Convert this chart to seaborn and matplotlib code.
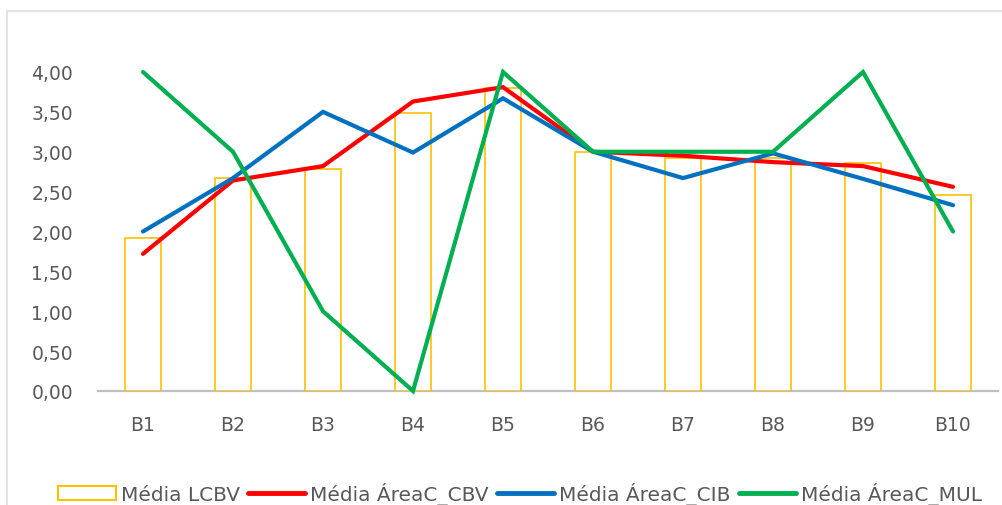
import matplotlib
matplotlib.use("Agg")
import matplotlib.pyplot as plt
from matplotlib.patches import Patch, Rectangle
from matplotlib.lines import Line2D
from matplotlib.ticker import FuncFormatter
import seaborn as sns
import pandas as pd

categories = ["B1", "B2", "B3", "B4", "B5", "B6", "B7", "B8", "B9", "B10"]
media_lcbv = [1.92, 2.67, 2.78, 3.49, 3.80, 3.00, 2.92, 2.92, 2.86, 2.46]
media_cbv = [1.72, 2.64, 2.82, 3.63, 3.81, 3.00, 2.95, 2.87, 2.82, 2.56]
media_cib = [2.00, 2.67, 3.50, 2.99, 3.67, 3.00, 2.67, 2.98, 2.66, 2.33]
media_mul = [4.00, 3.00, 1.00, 0.00, 4.00, 3.00, 3.00, 3.00, 4.00, 2.00]

bar_label = "Média LCBV"
line_labels = ["Média ÁreaC_CBV", "Média ÁreaC_CIB", "Média ÁreaC_MUL"]
line_colors = ["#FF0000", "#0070C0", "#00B050"]
bar_color = "#FFC000"
text_color = "#595959"

sns.set_theme(style="white")
plt.rcParams["font.family"] = ["DejaVu Sans"]

fig = plt.figure(figsize=(10.03, 5.06), dpi=100)
ax = fig.add_axes([98 / 1003, 1 - 392 / 506, 900 / 1003, (392 - 73) / 506])

# figure border
fig.patches.append(Rectangle((7 / 1003, -0.1), 1.2, (1 - 12 / 506) + 0.1,
                             transform=fig.transFigure, fill=False,
                             edgecolor="#E3E3E3", linewidth=1.5))

bar_df = pd.DataFrame({"cat": categories, "val": media_lcbv})
sns.barplot(data=bar_df, x="cat", y="val", order=categories, ax=ax,
            facecolor="white", edgecolor=bar_color, linewidth=1.2,
            width=0.41, errorbar=None)

long = pd.DataFrame({
    "cat": categories * 3,
    "val": media_cbv + media_cib + media_mul,
    "serie": [line_labels[0]] * 10 + [line_labels[1]] * 10 + [line_labels[2]] * 10,
})
sns.pointplot(data=long, x="cat", y="val", hue="serie", order=categories,
              hue_order=line_labels, palette=line_colors, markers="",
              linewidth=3.0, ax=ax, errorbar=None, legend=False)
for ln in ax.lines:
    ln.set_clip_on(False)
    ln.set_solid_capstyle("round")
    ln.set_solid_joinstyle("miter")

ax.set_xlim(-0.5, 9.5)
ax.set_ylim(0, 4)
ax.set_yticks([0, 0.5, 1, 1.5, 2, 2.5, 3, 3.5, 4])
ax.yaxis.set_major_formatter(FuncFormatter(lambda v, p: f"{v:.2f}".replace(".", ",")))
ax.set_xlabel("")
ax.set_ylabel("")
for s in ["top", "right", "left"]:
    ax.spines[s].set_visible(False)
ax.spines["bottom"].set_color("#BFBFBF")
ax.spines["bottom"].set_linewidth(1.6)
ax.spines["bottom"].set_zorder(0)
ax.tick_params(axis="both", length=0, labelsize=13.5, colors=text_color)
ax.tick_params(axis="y", pad=18)
ax.tick_params(axis="x", pad=17)
ax.grid(False)

handles = [Patch(facecolor="white", edgecolor=bar_color, linewidth=1.5, label=bar_label)]
for lab, col in zip(line_labels, line_colors):
    handles.append(Line2D([0], [0], color=col, linewidth=3.5, label=lab))
leg = fig.legend(handles=handles, loc="center", bbox_to_anchor=(0.5185, 0.022),
                 ncol=4, frameon=False, fontsize=14.5, handlelength=2.85,
                 handletextpad=0.25, columnspacing=0.4, borderaxespad=0)
for t in leg.get_texts():
    t.set_color(text_color)

fig.savefig("out.png", dpi=100)
